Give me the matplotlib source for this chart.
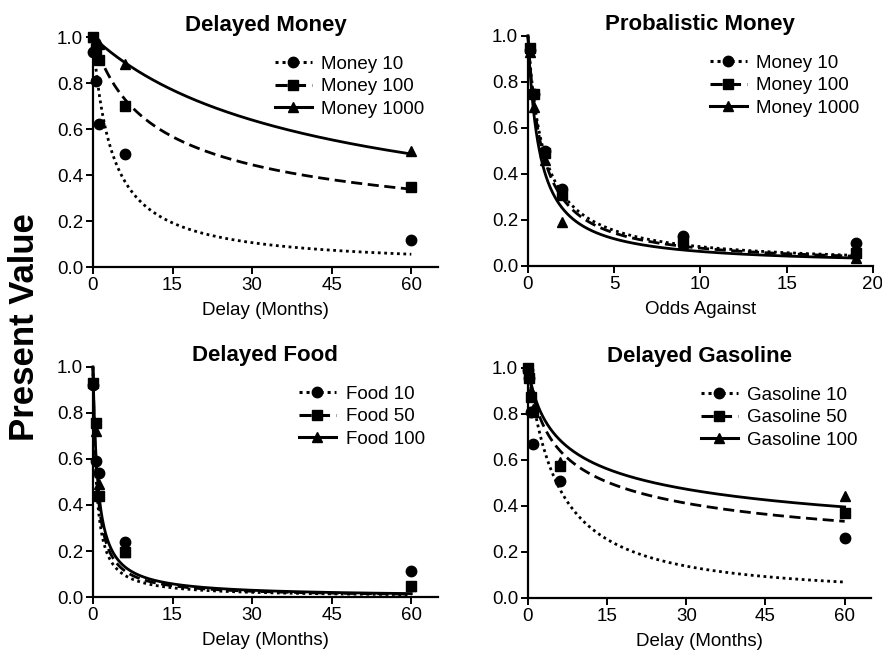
import numpy as np
import matplotlib
matplotlib.use('Agg')
import matplotlib.pyplot as plt
from matplotlib.ticker import FormatStrFormatter

plt.rcParams['font.family'] = ['Liberation Sans', 'DejaVu Sans']

# delays in months, odds against for the probability task
delay_money = [0.1, 0.6, 1.2, 6, 60]
money10 = [0.935, 0.81, 0.62, 0.49, 0.12]
money100 = [1.0, 0.95, 0.90, 0.70, 0.35]
money1000 = [1.0, 0.99, 0.97, 0.885, 0.505]

odds = [0.11, 0.33, 1, 2, 9, 19]
prob10 = [0.94, 0.745, 0.50, 0.335, 0.13, 0.10]
prob100 = [0.945, 0.745, 0.49, 0.31, 0.11, 0.055]
prob1000 = [0.93, 0.69, 0.46, 0.19, 0.10, 0.035]

delay_food = [0.1, 0.6, 1.2, 6, 60]
food10 = [0.92, 0.59, 0.54, 0.24, 0.115]
food50 = [0.93, 0.755, 0.44, 0.195, 0.05]
food100 = [0.94, 0.72, 0.49, 0.195, 0.05]

delay_gas = [0.03, 0.25, 0.5, 1, 6, 60]
gas10 = [0.99, 0.955, 0.81, 0.67, 0.51, 0.26]
gas50 = [1.0, 0.955, 0.875, 0.81, 0.575, 0.37]
gas100 = [1.0, 0.97, 0.90, 0.82, 0.59, 0.445]

# fitted hyperboloid parameters (k, s): V = 1 / (1 + k*D)^s
fit_money = [(0.28, 1.0), (0.17, 0.448), (0.033, 0.65)]
fit_prob = [(1.1, 1.0), (1.2, 1.0), (1.5, 1.0)]
fit_food = [(1.6, 1.0), (1.3, 1.0), (1.1, 1.0)]
fit_gas = [(0.15, 1.16), (0.5, 0.32), (0.5, 0.27)]

dotted = (0, (1.0, 1.3))
dashed = (0, (4.0, 2.0))
styles = [(dotted, 'o'), (dashed, 's'), ('-', '^')]

panels = [
    ('Delayed Money', 'Delay (Months)', delay_money, [money10, money100, money1000],
     ['Money 10', 'Money 100', 'Money 1000'], fit_money, 65, [0, 15, 30, 45, 60]),
    ('Probalistic Money', 'Odds Against', odds, [prob10, prob100, prob1000],
     ['Money 10', 'Money 100', 'Money 1000'], fit_prob, 20, [0, 5, 10, 15, 20]),
    ('Delayed Food', 'Delay (Months)', delay_food, [food10, food50, food100],
     ['Food 10', 'Food 50', 'Food 100'], fit_food, 65, [0, 15, 30, 45, 60]),
    ('Delayed Gasoline', 'Delay (Months)', delay_gas, [gas10, gas50, gas100],
     ['Gasoline 10', 'Gasoline 50', 'Gasoline 100'], fit_gas, 65, [0, 15, 30, 45, 60]),
]

positions = [
    [0.1054, 0.589, 0.391, 0.354],
    [0.5986, 0.591, 0.391, 0.354],
    [0.1054, 0.0815, 0.391, 0.354],
    [0.5986, 0.080, 0.389, 0.354],
]

fig = plt.figure(figsize=(8.82, 6.5), dpi=100)

for pos, (title, xlabel, x, series, labels, fits, xmax, xticks) in zip(positions, panels):
    ax = fig.add_axes(pos)
    xs = np.linspace(0, max(x), 600)
    for y, label, (k, s), (ls, mk) in zip(series, labels, fits, styles):
        curve = 1.0 / (1.0 + k * xs) ** s
        ax.plot(xs, curve, color='black', lw=2.0, linestyle=ls, clip_on=False)
        ax.plot(x, y, linestyle='none', marker=mk, color='black',
                markersize=7.5, clip_on=False, zorder=3)
        # legend proxy: line with marker in the middle
        ax.plot([], [], color='black', lw=2.2, linestyle=ls, marker=mk,
                markersize=7.5, label=label)
    ax.set_xlim(0, xmax)
    ax.set_ylim(0, 1.0)
    ax.set_xticks(xticks)
    ax.set_yticks([0, 0.2, 0.4, 0.6, 0.8, 1.0])
    ax.yaxis.set_major_formatter(FormatStrFormatter('%.1f'))
    for side in ['top', 'right']:
        ax.spines[side].set_visible(False)
    for side in ['left', 'bottom']:
        ax.spines[side].set_linewidth(1.6)
    ax.tick_params(direction='out', length=5, width=1.4, labelsize=13.5, pad=2)
    ax.set_title(title, fontsize=16, fontweight='bold', pad=4)
    ax.set_xlabel(xlabel, fontsize=13.5, labelpad=6)
    ax.legend(loc='upper right', frameon=False, fontsize=13.5, handlelength=2.0,
              labelspacing=0.28, handletextpad=0.5, borderaxespad=0.3,
              bbox_to_anchor=(1.0, 0.975))

fig.text(0.028, 0.497, 'Present Value', rotation=90, fontsize=25,
         fontweight='bold', ha='center', va='center')

fig.savefig('out.png', dpi=100)
